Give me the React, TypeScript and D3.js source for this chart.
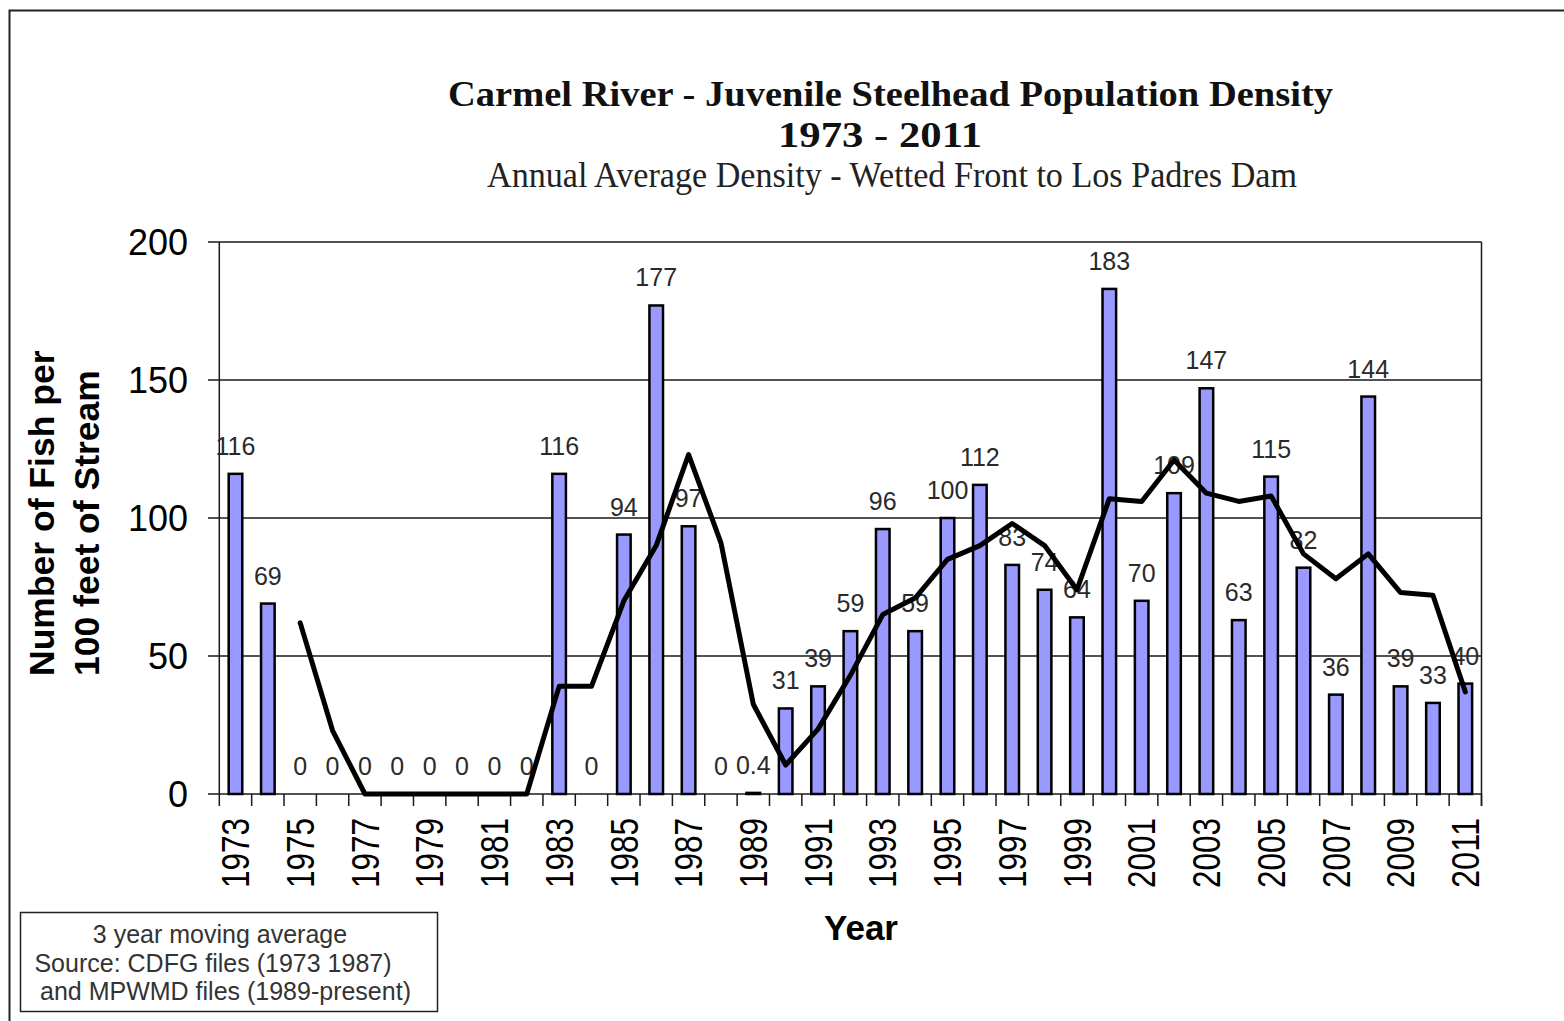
import React from 'react';
import * as d3 from 'd3';

const years = ['1973','1974','1975','1976','1977','1978','1979','1980','1981','1982','1983','1984','1985','1986','1987','1988','1989','1990','1991','1992','1993','1994','1995','1996','1997','1998','1999','2000','2001','2002','2003','2004','2005','2006','2007','2008','2009','2010','2011'];
const density = [116, 69, 0, 0, 0, 0, 0, 0, 0, 0, 116, 0, 94, 177, 97, 0, 0.4, 31, 39, 59, 96, 59, 100, 112, 83, 74, 64, 183, 70, 109, 147, 63, 115, 82, 36, 144, 39, 33, 40];
const avgYears = ['1975','1976','1977','1978','1979','1980','1981','1982','1983','1984','1985','1986','1987','1988','1989','1990','1991','1992','1993','1994','1995','1996','1997','1998','1999','2000','2001','2002','2003','2004','2005','2006','2007','2008','2009','2010','2011'];
const movingAvg = [62, 23, 0, 0, 0, 0, 0, 0, 39, 39, 70, 90, 123, 91, 32.5, 10.5, 23.5, 43, 65, 71, 85, 90, 98, 90, 74, 107, 106, 121, 109, 106, 108, 87, 78, 87, 73, 72, 37];
const yTicks = [0, 50, 100, 150, 200];
const yearTickLabels = ['1973','1975','1977','1979','1981','1983','1985','1987','1989','1991','1993','1995','1997','1999','2001','2003','2005','2007','2009','2011'];

const titleLines = ['Carmel River - Juvenile Steelhead Population Density', '1973 - 2011'];
const subtitle = 'Annual Average Density - Wetted Front to Los Padres Dam';
const yTitleLines = ['Number of Fish per', '100 feet of Stream'];
const xTitle = 'Year';
const noteLines = ['3 year moving average', 'Source: CDFG files (1973 1987)', ' and MPWMD files (1989-present)'];

const SANS = '"Liberation Sans", Arial, sans-serif';
const SERIF = '"Liberation Serif", "Times New Roman", serif';

export default function App() {
  const left = 219.3, right = 1481.5, top = 242, bottom = 794;
  const x = d3.scaleBand<string>().domain(years).range([left, right]).paddingInner(0.58).paddingOuter(0.29);
  const y = d3.scaleLinear().domain([0, 200]).range([bottom, top]);
  const step = x.step();
  const cx = (yr: string) => (x(yr) as number) + x.bandwidth() / 2;
  const bounds = d3.range(years.length + 1).map(i => left + i * step);

  const line = d3.line<number>()
    .x((_, i) => cx(avgYears[i]))
    .y(d => y(d));

  const gridCol = '#1a1a1a';

  return (
    <svg width={1564} height={1021} style={{ position: 'absolute', left: 0, top: 0, background: '#fff' }}>
      <rect x={0} y={0} width={1564} height={1021} fill="#fff" />
      <rect x={9.5} y={10.5} width={1700} height={1100} fill="none" stroke="#222" strokeWidth={2} />

      {/* titles */}
      <text x={890.5} y={106} textAnchor="middle" fontFamily={SERIF} fontWeight="bold" fontSize={36} textLength={885} lengthAdjust="spacingAndGlyphs" fill="#111">{titleLines[0]}</text>
      <text x={880} y={147} textAnchor="middle" fontFamily={SERIF} fontWeight="bold" fontSize={36} textLength={204} lengthAdjust="spacingAndGlyphs" fill="#111">{titleLines[1]}</text>
      <text x={892} y={187} textAnchor="middle" fontFamily={SERIF} fontSize={35} textLength={810} lengthAdjust="spacingAndGlyphs" fill="#222">{subtitle}</text>

      {/* gridlines */}
      {yTicks.map(t => (
        <line key={'g' + t} x1={208} x2={right} y1={y(t)} y2={y(t)} stroke={gridCol} strokeWidth={1.5} />
      ))}
      {/* y axis */}
      <line x1={left} x2={left} y1={top} y2={bottom} stroke={gridCol} strokeWidth={1.5} />
      <line x1={right} x2={right} y1={top} y2={bottom + 12} stroke={gridCol} strokeWidth={1.5} />
      {yTicks.map(t => (
        <text key={'yt' + t} x={188} y={y(t)} dy="0.36em" textAnchor="end" fontFamily={SANS} fontSize={36} fill="#000">{t}</text>
      ))}
      {/* x ticks */}
      {bounds.map((b, i) => (
        <line key={'xt' + i} x1={b} x2={b} y1={bottom} y2={bottom + 12} stroke={gridCol} strokeWidth={1.5} />
      ))}
      {yearTickLabels.map(yr => (
        <text key={'yl' + yr} transform={`translate(${cx(yr)},818) rotate(-90)`} dy="0.36em" textAnchor="end" fontFamily={SANS} fontSize={38} textLength={70} lengthAdjust="spacingAndGlyphs" fill="#000">{yr}</text>
      ))}

      {/* bars */}
      {years.map((yr, i) => density[i] > 0 ? (
        <rect key={'b' + yr} x={x(yr)} y={y(density[i])} width={x.bandwidth()} height={bottom - y(density[i])} fill="#9999FF" stroke="#000" strokeWidth={2.5} />
      ) : null)}

      {/* data labels */}
      {years.map((yr, i) => (
        <text key={'dl' + yr} x={cx(yr)} y={y(density[i]) - 19} textAnchor="middle" fontFamily={SANS} fontSize={25} fill="#2a2a2a">{String(density[i])}</text>
      ))}

      {/* moving average */}
      <path d={line(movingAvg) || ''} fill="none" stroke="#000" strokeWidth={5} strokeLinejoin="round" strokeLinecap="round" />

      {/* axis titles */}
      <text transform="translate(54,676) rotate(-90)" textAnchor="start" fontFamily={SANS} fontWeight="bold" fontSize={35.5} fill="#000">{yTitleLines[0]}</text>
      <text transform="translate(99,676) rotate(-90)" textAnchor="start" fontFamily={SANS} fontWeight="bold" fontSize={35.5} fill="#000">{yTitleLines[1]}</text>
      <text x={861} y={940} textAnchor="middle" fontFamily={SANS} fontWeight="bold" fontSize={35} fill="#000">{xTitle}</text>

      {/* note box */}
      <rect x={20.5} y={912.5} width={417} height={99} fill="#fff" stroke="#222" strokeWidth={1.5} />
      <text x={220} y={943} textAnchor="middle" fontFamily={SANS} fontSize={25} fill="#333">{noteLines[0]}</text>
      <text x={213} y={972} textAnchor="middle" fontFamily={SANS} fontSize={25} fill="#333">{noteLines[1]}</text>
      <text x={222} y={1000} textAnchor="middle" fontFamily={SANS} fontSize={25} fill="#333" style={{ whiteSpace: 'pre' }}>{noteLines[2]}</text>
    </svg>
  );
}
